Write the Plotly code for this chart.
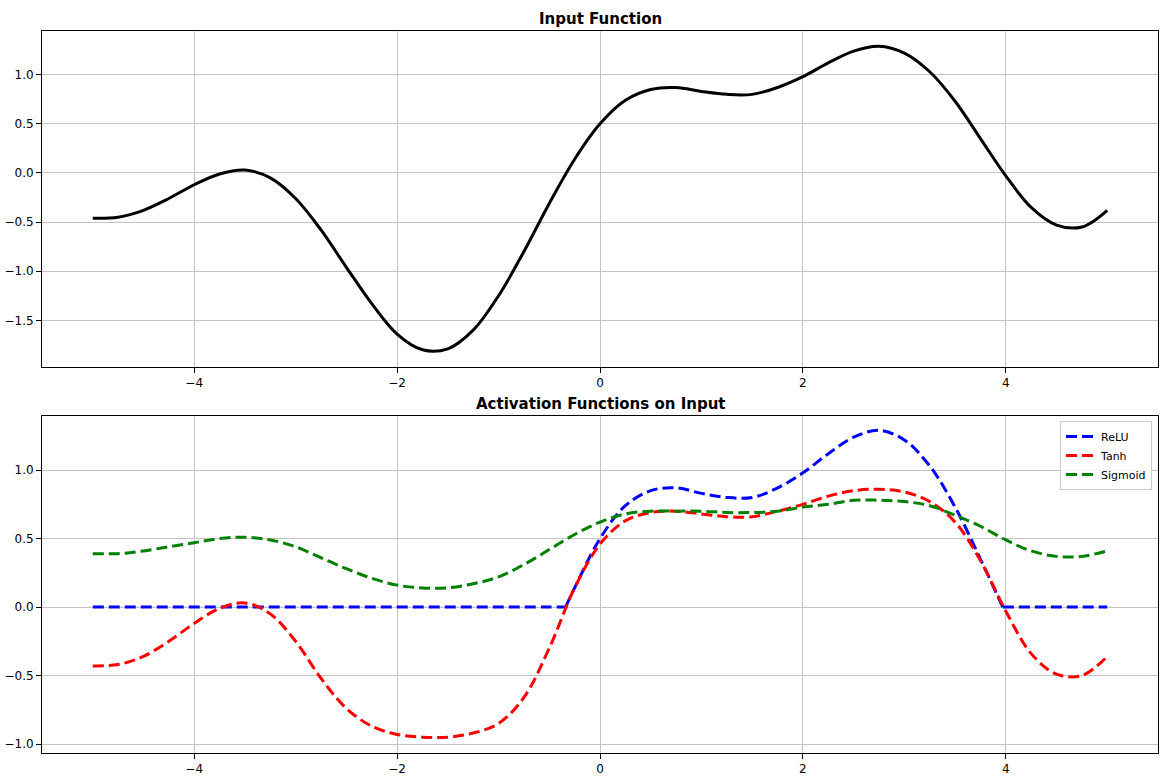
import plotly.graph_objects as go

# ---- data ----
x_vals = [-5, -4.75, -4.5, -4.25, -4, -3.75, -3.5, -3.25, -3, -2.75, -2.5, -2.25, -2,
          -1.75, -1.5, -1.25, -1, -0.75, -0.5, -0.25, 0, 0.25, 0.5, 0.75, 1, 1.25,
          1.5, 1.75, 2, 2.25, 2.5, 2.75, 3, 3.25, 3.5, 3.75, 4, 4.25, 4.5, 4.75, 5]

input_vals = [-0.46, -0.45, -0.38, -0.26, -0.12, -0.01, 0.03, -0.05, -0.26, -0.58, -0.96,
              -1.33, -1.64, -1.80, -1.79, -1.60, -1.25, -0.80, -0.31, 0.14, 0.50, 0.74,
              0.85, 0.87, 0.83, 0.80, 0.80, 0.87, 0.98, 1.12, 1.24, 1.29, 1.22, 1.03,
              0.73, 0.35, -0.03, -0.35, -0.53, -0.55, -0.38]

tanh_vals = [-0.43, -0.42, -0.36, -0.25, -0.12, -0.01, 0.03, -0.05, -0.25, -0.52, -0.74,
             -0.87, -0.93, -0.95, -0.95, -0.92, -0.85, -0.66, -0.30, 0.14, 0.46, 0.63,
             0.69, 0.70, 0.68, 0.66, 0.66, 0.70, 0.75, 0.81, 0.85, 0.86, 0.84, 0.77,
             0.62, 0.34, -0.03, -0.34, -0.49, -0.50, -0.36]

sigmoid_vals = [0.39, 0.39, 0.41, 0.44, 0.47, 0.50, 0.51, 0.49, 0.44, 0.36, 0.28, 0.21,
                0.16, 0.14, 0.14, 0.17, 0.22, 0.31, 0.42, 0.53, 0.62, 0.68, 0.70, 0.70,
                0.70, 0.69, 0.69, 0.70, 0.73, 0.75, 0.78, 0.78, 0.77, 0.74, 0.67, 0.59,
                0.49, 0.41, 0.37, 0.37, 0.41]

relu_x = [-5, -4.75, -4.5, -4.25, -4, -3.75, -3.5, -3.25, -3, -2.75, -2.5, -2.25, -2,
          -1.75, -1.5, -1.25, -1, -0.75, -0.5, -0.34, -0.25, 0, 0.25, 0.5, 0.75, 1,
          1.25, 1.5, 1.75, 2, 2.25, 2.5, 2.75, 3, 3.25, 3.5, 3.75, 3.97, 4.25, 4.5,
          4.75, 5]
relu_vals = [0, 0, 0, 0, 0, 0, 0, 0, 0, 0, 0, 0, 0, 0, 0, 0, 0, 0, 0, 0,
             0.14, 0.50, 0.74, 0.85, 0.87, 0.83, 0.80, 0.80, 0.87, 0.98, 1.12, 1.24,
             1.29, 1.22, 1.03, 0.73, 0.35, 0, 0, 0, 0, 0]

x_ticks = [-4, -2, 0, 2, 4]
x_tick_text = ["\u22124", "\u22122", "0", "2", "4"]
top_y_ticks = [-1.5, -1.0, -0.5, 0.0, 0.5, 1.0]
top_y_text = ["\u22121.5", "\u22121.0", "\u22120.5", "0.0", "0.5", "1.0"]
bot_y_ticks = [-1.0, -0.5, 0.0, 0.5, 1.0]
bot_y_text = ["\u22121.0", "\u22120.5", "0.0", "0.5", "1.0"]


def split_at_kinks(xs, ys):
    """Break the ReLU polyline at its kinks so each smooth piece is splined alone."""
    ox, oy = [], []
    n = len(xs)
    for i in range(n):
        ox.append(xs[i]); oy.append(ys[i])
        if 0 < i < n - 1 and ys[i] == 0 and (ys[i - 1] > 0 or ys[i + 1] > 0):
            ox += [None, xs[i]]; oy += [None, ys[i]]
    return ox, oy


# ---- figure ----
W, H = 1161, 781
FONT = "DejaVu Sans"
fig = go.Figure()

fig.add_trace(go.Scatter(x=x_vals, y=input_vals, mode="lines", showlegend=False,
                         line=dict(color="#000000", width=3, shape="spline", smoothing=1.0),
                         xaxis="x", yaxis="y"))

rx, ry = split_at_kinks(relu_x, relu_vals)
series = [("ReLU", rx, ry, "#0000ff"), ("Tanh", x_vals, tanh_vals, "#ff0000"),
          ("Sigmoid", x_vals, sigmoid_vals, "#008000")]
for name, xs, vals, col in series:
    fig.add_trace(go.Scatter(x=xs, y=vals, mode="lines", name=name, connectgaps=False,
                             line=dict(color=col, width=3, dash="11px,5px",
                                       shape="spline", smoothing=1.0),
                             xaxis="x2", yaxis="y2"))

left, right = 42 / W, 1158 / W
top1, bot1 = 1 - 31 / H, 1 - 367 / H
top2, bot2 = 1 - 416 / H, 1 - 752.5 / H

axis_common = dict(showline=True, linecolor="#000000", linewidth=1, mirror=True,
                   ticks="outside", ticklen=5, tickwidth=1, tickcolor="#000000",
                   showgrid=True, gridcolor="#c4c4c4", gridwidth=1, zeroline=False,
                   tickfont=dict(family=FONT, size=12, color="#000000"))

fig.update_layout(
    width=W, height=H,
    margin=dict(l=0, r=0, t=0, b=0),
    paper_bgcolor="white", plot_bgcolor="white",
    font=dict(family=FONT, size=12, color="#000000"),
    xaxis=dict(domain=[left, right], anchor="y", range=[-5.5, 5.5],
               tickvals=x_ticks, ticktext=x_tick_text, **axis_common),
    yaxis=dict(domain=[bot1, top1], anchor="x", range=[-1.975, 1.445],
               tickvals=top_y_ticks, ticktext=top_y_text, **axis_common),
    xaxis2=dict(domain=[left, right], anchor="y2", range=[-5.5, 5.5],
                tickvals=x_ticks, ticktext=x_tick_text, **axis_common),
    yaxis2=dict(domain=[bot2, top2], anchor="x2", range=[-1.062, 1.395],
                tickvals=bot_y_ticks, ticktext=bot_y_text, **axis_common),
    legend=dict(x=1152 / W, y=1 - 421 / H, xanchor="right", yanchor="top",
                bgcolor="rgba(255,255,255,0.8)", bordercolor="#cccccc", borderwidth=1,
                font=dict(family=FONT, size=11, color="#000000"),
                tracegroupgap=0, itemwidth=30),
    annotations=[
        dict(text="<b>Input Function</b>", x=(left + right) / 2, y=1 - 19 / H,
             xref="paper", yref="paper", xanchor="center", yanchor="middle",
             showarrow=False, font=dict(family=FONT, size=15, color="#000000")),
        dict(text="<b>Activation Functions on Input</b>", x=(left + right) / 2,
             y=1 - 404 / H, xref="paper", yref="paper", xanchor="center",
             yanchor="middle", showarrow=False,
             font=dict(family=FONT, size=15, color="#000000")),
    ],
)

fig.write_html("out.html")
